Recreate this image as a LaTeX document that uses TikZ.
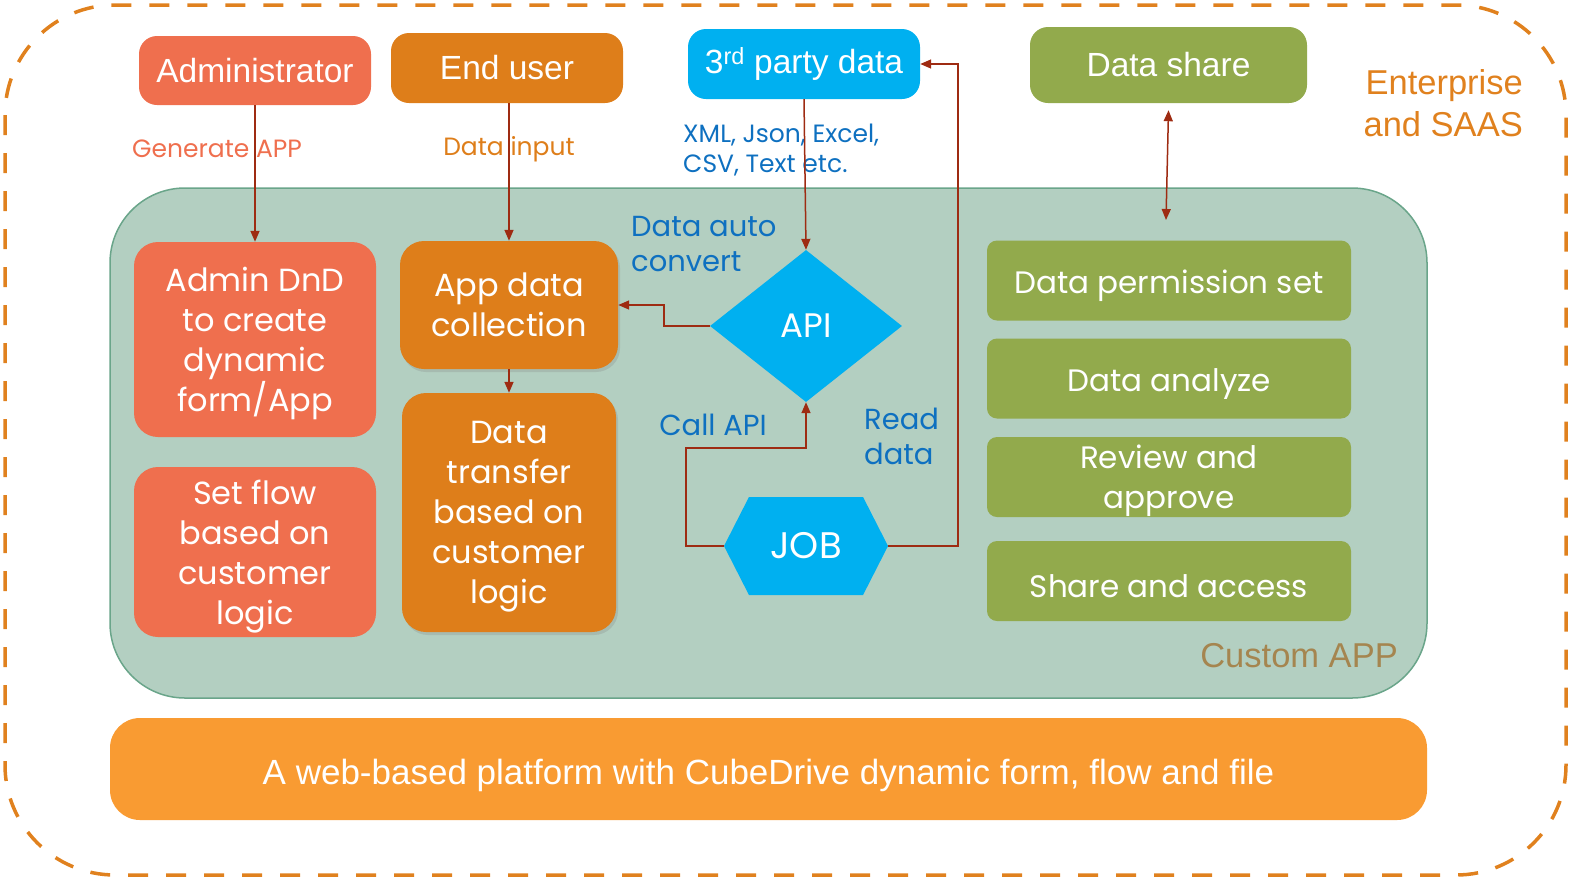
\documentclass[tikz,border=0pt]{standalone}
\usepackage{fontspec}
\setmainfont{Liberation Sans}
\newfontfamily\gothic{Poppins}
\usetikzlibrary{arrows.meta,shapes.geometric,shapes.symbols,shadows}

\definecolor{ccoral}{HTML}{EF6F4E}
\definecolor{corange}{HTML}{DE7E1A}
\definecolor{cblue}{HTML}{00B0F0}
\definecolor{cgreen}{HTML}{92AA4C}
\definecolor{cappfill}{HTML}{B3CFC1}
\definecolor{cappdraw}{HTML}{6AA58A}
\definecolor{cbar}{HTML}{F99B32}
\definecolor{cdash}{HTML}{E0811E}
\definecolor{ctext}{HTML}{0E70C0}
\definecolor{carrow}{HTML}{9E2B12}
\definecolor{cbrown}{HTML}{A5854F}

\begin{document}
\begin{tikzpicture}[x=1pt, y=-1pt,
  topbox/.style={rounded corners=18pt, text=white, inner sep=0pt,
    font=\fontsize{33.5}{38}\selectfont},
  appbox/.style={rounded corners=24pt, text=white, align=center, inner sep=0pt,
    text depth=-4pt, font=\gothic\fontsize{32}{40}\selectfont},
  greenbox/.style={rounded corners=10pt, fill=cgreen, text=white, align=center,
    minimum width=364pt, minimum height=80pt, inner sep=0pt,
    font=\gothic\fontsize{31}{40}\selectfont},
  oneline/.style={text height=34pt},
  note/.style={text=ctext, inner sep=0pt, font=\gothic\fontsize{29}{35}\selectfont},
  small/.style={inner sep=0pt, font=\gothic\fontsize{25}{30}\selectfont},
  link/.style={draw=carrow, line width=1.5pt, -{Triangle[length=11pt,width=9pt]}},
  dlink/.style={draw=carrow, line width=1.5pt,
    {Triangle[length=11pt,width=9pt]}-{Triangle[length=11pt,width=9pt]}}
]
\useasboundingbox (0,0) rectangle (1571,879);

% outer frame and the app area
\draw[cdash, line width=3.5pt, dash pattern=on 20pt off 18pt, rounded corners=110pt]
  (5,5) rectangle (1566,875);
\draw[fill=cappfill, draw=cappdraw, line width=1.5pt, rounded corners=75pt]
  (110,188) rectangle (1427,698);

% top row
\node[topbox, fill=ccoral, minimum width=232pt, minimum height=69pt] (admin) at (255,70.5) {Administrator};
\node[topbox, fill=corange, minimum width=232pt, minimum height=70pt] (enduser) at (507,68) {End user};
\node[topbox, fill=cblue, minimum width=232pt, minimum height=70pt] (third) at (804,64) {3\textsuperscript{rd} party data};
\node[topbox, fill=cgreen, minimum width=277pt, minimum height=76pt] (share) at (1168.5,65) {Data share};
\node[text=cdash, align=right, anchor=east, inner sep=0pt, font=\fontsize{34.5}{42}\selectfont]
  (saas) at (1523,103) {Enterprise\\and SAAS};

% labels above the app area
\node[small, text=ccoral] (genlabel) at (217,149) {Generate APP};
\node[small, text=corange] (inlabel) at (509,149) {Data input};
\node[small, text=ctext, align=left, anchor=north west] (fmtlabel) at (683,124) {XML, Json, Excel,\\CSV, Text etc.};

% left columns
\node[appbox, fill=ccoral, minimum width=242pt, minimum height=195pt] (dnd) at (255,339.5)
  {Admin DnD\\to create\\dynamic\\form/App};
\node[appbox, fill=ccoral, minimum width=242pt, minimum height=170pt] (flow) at (255,552)
  {Set flow\\based on\\customer\\logic};
\node[appbox, fill=corange, minimum width=218pt, minimum height=128pt,
  drop shadow={opacity=0.25, shadow xshift=2pt, shadow yshift=-3pt}] (collect) at (509,305)
  {App data\\collection};
\node[appbox, fill=corange, minimum width=214pt, minimum height=239pt,
  drop shadow={opacity=0.25, shadow xshift=2pt, shadow yshift=-3pt}] (transfer) at (509,512.5)
  {Data\\transfer\\based on\\customer\\logic};

% API and JOB
\node[diamond, fill=cblue, text=white, inner sep=0pt, minimum width=192pt, minimum height=152pt,
  font=\gothic\fontsize{34}{38}\selectfont] (api) at (806,326) {API};
\node[signal, signal to=west and east, signal pointer angle=126, fill=cblue, text=white,
  inner sep=0pt, minimum width=164pt, minimum height=98pt,
  font=\gothic\fontsize{37}{40}\selectfont] (job) at (806,546) {JOB};
\node[note, align=left, anchor=north west] (convlabel) at (631,216) {Data auto\\convert};
\node[note] (calllabel) at (713,425) {Call API};
\node[note, align=left, anchor=west] (readlabel) at (864,436) {Read\\data};

% right column
\node[greenbox, oneline] (perm) at (1169,280.5) {Data permission set};
\node[greenbox, oneline] (analyze) at (1169,378.5) {Data analyze};
\node[greenbox, text depth=-4pt] (review) at (1169,477) {Review and\\approve};
\node[greenbox, oneline] (access) at (1169,581) {Share and access};
\node[text=cbrown, anchor=east, inner sep=0pt, font=\fontsize{34.5}{38}\selectfont]
  (customlabel) at (1398,656) {Custom APP};

% platform bar
\node[fill=cbar, text=white, rounded corners=30pt, minimum width=1317pt, minimum height=102pt,
  text height=37pt, text depth=7pt, font=\fontsize{35}{40}\selectfont] (platform) at (768.5,769)
  {A web-based platform with CubeDrive dynamic form, flow and file};

% connectors
\coordinate (callbend) at (806,448);
\coordinate (sharetip) at (1166,220);
\draw[link] (admin) -- (dnd);
\draw[link] (enduser.south -| collect.north) -- (collect.north);
\draw[link] (third.south) -- (api.north);
\draw[link] (api.west) -- ++(-46,0) |- (collect.east);
\draw[link] (collect.south) -- (transfer.north);
\draw[link] (job.west) -- ++(-38,0) |- (callbend) -- (api.south);
\draw[link] (job.east) -- ++(70,0) |- (third.east);
\draw[dlink] ([yshift=-7pt]share.south) -- (sharetip);
\end{tikzpicture}
\end{document}
